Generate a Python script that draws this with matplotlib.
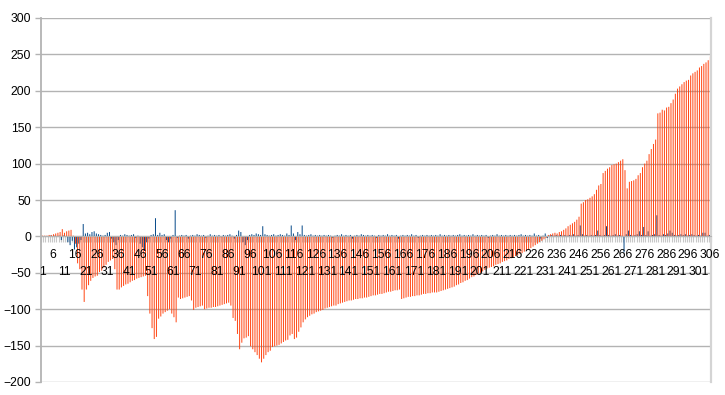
import numpy as np
import matplotlib
matplotlib.use("Agg")
import matplotlib.pyplot as plt

plt.rcParams['font.family'] = ['Liberation Sans', 'DejaVu Sans']

# categories 1..306
categories = list(range(1, 307))

# series 1 (blue)
blue = [
    0, 0, 0, 0, 1, 0, 1, 0, 1, -5,
    1, 0, -8, -12, -6, -18, -15, -10, -5, 17,
    4, 5, 3, 6, 7, 4, 3, 2, 1, 2,
    5, 6, -3, -8, -12, -5, 2, 1, 3, 2,
    1, 2, 3, -2, 1, -10, -15, -20, -8, -3,
    2, 3, 25, 2, 5, 2, 3, -5, -8, -3,
    2, 36, -2, 1, 2, 1, 2, -3, 1, 2,
    1, 3, 2, 1, 2, -2, 1, 3, 1, 2,
    1, 2, -1, 2, 1, 2, 3, 1, -3, 2,
    8, 6, -8, -12, -5, 2, 3, 2, 4, 3,
    2, 14, 3, 2, 1, 2, 3, 1, 2, 3,
    2, 1, 4, 2, 15, 4, -5, 6, 3, 15,
    2, 1, 2, 3, 1, 2, 1, 2, 1, 2,
    1, 2, 1, -2, 1, 2, 1, 3, 1, 2,
    1, 2, -3, 1, 2, 1, 3, 2, 1, 2,
    1, 2, 1, -2, 2, 1, 2, 1, 3, 1,
    2, 1, 2, -3, 1, 2, 1, 2, 1, 3,
    1, 2, -2, 1, 2, 1, 2, 1, 2, 1,
    2, 1, 3, 1, 2, 1, 2, 1, 2, 1,
    2, 3, 1, 2, 1, 2, 1, 3, 1, 2,
    1, 2, 1, 2, -2, 1, 2, 1, 3, 1,
    2, 1, 2, 1, 2, 1, 2, 1, 2, 3,
    1, 2, 1, 2, 1, 4, 1, 2, -3, 1,
    4, -2, 1, 2, 1, 2, 1, 2, 1, 2,
    1, 2, 1, 3, 1, 2, 15, 3, 1, 2,
    1, 2, 1, 2, 8, 2, 1, 2, 14, 2,
    1, 2, 3, 1, 2, 1, -22, 3, 8, 2,
    1, 2, 3, 7, 2, 13, 2, 7, 1, 2,
    3, 29, 2, 1, 3, 2, 4, 8, 5, 2,
    1, 2, 3, 2, 3, 1, 2, 3, 2, 1,
    2, 1, 5, 5, 1, 2,
]

# series 2 (orange)
orange = [
    1, 1, 1, 2, 2, 3, 4, 5, 6, 10,
    5, 7, 8, 9, 1, -10, -37, -45, -73, -90,
    -73, -67, -61, -57, -55, -54, -49, -47, -43, -39,
    -35, -33, -31, -45, -73, -73, -70, -68, -66, -65,
    -63, -61, -60, -58, -57, -56, -55, -54, -82, -106,
    -126, -141, -138, -113, -110, -106, -104, -102, -100, -106,
    -111, -118, -84, -86, -85, -84, -83, -82, -88, -101,
    -98, -97, -96, -95, -100, -99, -98, -98, -97, -97,
    -96, -95, -94, -93, -92, -91, -95, -112, -116, -134,
    -155, -146, -140, -139, -137, -151, -155, -159, -163, -168,
    -173, -168, -163, -159, -157, -152, -151, -150, -149, -147,
    -145, -143, -142, -136, -134, -141, -139, -131, -125, -118,
    -114, -111, -109, -107, -106, -104, -103, -102, -101, -99,
    -98, -97, -96, -95, -95, -93, -92, -91, -90, -89,
    -88, -88, -87, -86, -86, -85, -85, -84, -84, -83,
    -82, -81, -81, -80, -79, -79, -78, -77, -76, -76,
    -75, -74, -74, -73, -86, -85, -84, -83, -83, -82,
    -82, -81, -81, -80, -79, -79, -78, -78, -77, -77,
    -77, -76, -75, -74, -73, -72, -71, -70, -69, -67,
    -66, -64, -63, -61, -60, -58, -56, -55, -53, -51,
    -50, -48, -46, -44, -43, -42, -41, -39, -38, -37,
    -35, -34, -33, -31, -30, -29, -27, -26, -24, -23,
    -21, -20, -18, -16, -14, -12, -10, -8, -6, -4,
    -2, 2, 3, 4, 5, 4, 6, 7, 9, 11,
    14, 16, 18, 20, 23, 27, 45, 47, 50, 51,
    53, 55, 58, 64, 70, 72, 87, 90, 93, 95,
    98, 99, 100, 102, 104, 106, 91, 66, 75, 76,
    77, 79, 84, 87, 95, 100, 104, 113, 120, 127,
    133, 169, 170, 174, 173, 177, 178, 183, 188, 196,
    203, 206, 209, 212, 214, 215, 221, 224, 226, 228,
    232, 234, 237, 239, 242, 247,
]

label_step = 5
y_ticks = list(range(-200, 301, 50))
y_min, y_max = -200, 300

x = np.array(categories)
fig = plt.figure(figsize=(7.25, 3.95), dpi=100)
ax = fig.add_axes([41 / 725, 1 - 382 / 395, 670 / 725, 364 / 395])

bw = 0.44
ax.bar(x - bw / 2, blue, width=bw, color='#004586', linewidth=0, snap=False)
ax.bar(x + bw / 2, orange, width=bw, color='#ff420e', linewidth=0, snap=False)

ax.set_xlim(0.5, len(categories) + 0.5)
ax.set_ylim(y_min, y_max)
ax.set_axisbelow(True)

ax.set_yticks(y_ticks)
ax.grid(axis='y', color='#b3b3b3', linewidth=1)
ax.tick_params(axis='y', length=4, width=1, color='#b3b3b3', pad=3,
               labelsize=8.7, labelcolor='black')

# gray tick marks at every category boundary
ax.set_xticks([])
ax.set_xticks(np.arange(0.5, len(categories) + 1, 1), minor=True)
ax.tick_params(axis='x', which='minor', length=4.3, width=0.8, color='#c8c8c8',
               direction='out')

# category labels in two staggered rows, drawn above the bars
lower_pos = categories[::label_step * 2]
upper_pos = categories[label_step::label_step * 2]
zero_frac = (0 - y_min) / (y_max - y_min)

for pos, pad in ((upper_pos, 9), (lower_pos, 21.5)):
    sec = ax.secondary_xaxis(zero_frac)
    sec.set_zorder(5)
    sec.set_xticks(pos)
    sec.set_xticklabels([str(c) for c in pos])
    sec.tick_params(axis='x', length=0, pad=pad, labelsize=8.7, labelcolor='black')
    sec.spines['bottom'].set_visible(False)

ax.spines['bottom'].set_position(('data', 0))
ax.spines['bottom'].set_color('#b3b3b3')
ax.spines['left'].set_color('#b3b3b3')
ax.spines['left'].set_linewidth(1.3)
ax.spines['right'].set_color('#d4d4d4')
ax.spines['right'].set_linewidth(1.6)
ax.spines['top'].set_visible(False)

fig.savefig('out.png', dpi=100)
